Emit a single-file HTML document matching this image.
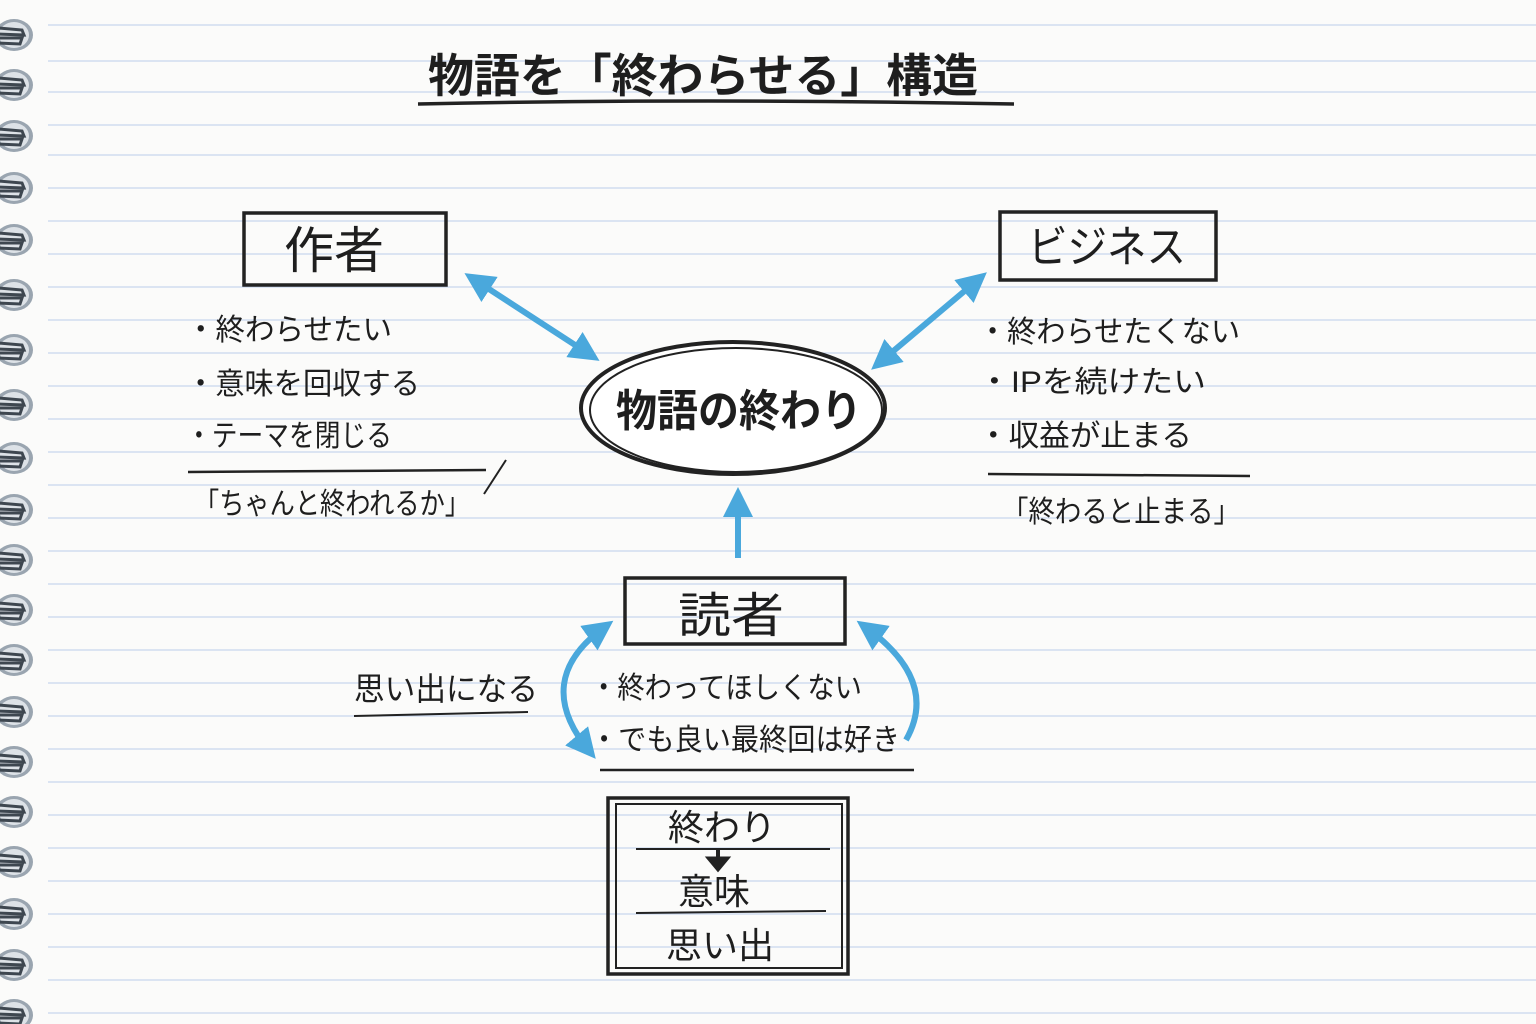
<!DOCTYPE html>
<html><head><meta charset="utf-8"><style>
html,body{margin:0;padding:0;background:#fbfbfa;}
svg{display:block}
text{font-family:"Liberation Sans","Noto Sans CJK JP",sans-serif;fill:#1e1e1e}
</style></head><body>
<svg width="1536" height="1024" viewBox="0 0 1536 1024" xmlns="http://www.w3.org/2000/svg">
<defs>
<marker id="ah" viewBox="0 0 10 10" refX="7" refY="5" markerWidth="5" markerHeight="5" orient="auto-start-reverse"><path d="M0,0 L10,5 L0,10 z" fill="#4aa8dc"/></marker>
<g id="ring"><ellipse cx="14" cy="0" rx="19" ry="16" fill="#9aa5b0"/><ellipse cx="14" cy="0" rx="15" ry="13" fill="#dde2e7"/><path d="M-2,-7 L22,-5 L24,0 L-2,-1 M-2,3 L22,3 L20,9 L-2,8" stroke="#3e4750" stroke-width="3" fill="none"/></g>
</defs>
<rect width="1536" height="1024" fill="#fbfbfa"/>
<g stroke="#c8d6ee" stroke-width="1.3">
<line x1="48" y1="25" x2="1536" y2="25"/><line x1="48" y1="61" x2="1536" y2="61"/><line x1="48" y1="92" x2="1536" y2="92"/><line x1="48" y1="125" x2="1536" y2="125"/><line x1="48" y1="155" x2="1536" y2="155"/><line x1="48" y1="188" x2="1536" y2="188"/><line x1="48" y1="221" x2="1536" y2="221"/><line x1="48" y1="254" x2="1536" y2="254"/><line x1="48" y1="287" x2="1536" y2="287"/><line x1="48" y1="320" x2="1536" y2="320"/><line x1="48" y1="353" x2="1536" y2="353"/><line x1="48" y1="386" x2="1536" y2="386"/><line x1="48" y1="419" x2="1536" y2="419"/><line x1="48" y1="452" x2="1536" y2="452"/><line x1="48" y1="485" x2="1536" y2="485"/><line x1="48" y1="518" x2="1536" y2="518"/><line x1="48" y1="551" x2="1536" y2="551"/><line x1="48" y1="584" x2="1536" y2="584"/><line x1="48" y1="617" x2="1536" y2="617"/><line x1="48" y1="650" x2="1536" y2="650"/><line x1="48" y1="683" x2="1536" y2="683"/><line x1="48" y1="716" x2="1536" y2="716"/><line x1="48" y1="749" x2="1536" y2="749"/><line x1="48" y1="782" x2="1536" y2="782"/><line x1="48" y1="815" x2="1536" y2="815"/><line x1="48" y1="848" x2="1536" y2="848"/><line x1="48" y1="881" x2="1536" y2="881"/><line x1="48" y1="914" x2="1536" y2="914"/><line x1="48" y1="947" x2="1536" y2="947"/><line x1="48" y1="980" x2="1536" y2="980"/><line x1="48" y1="1013" x2="1536" y2="1013"/>
</g>
<g>
<use href="#ring" y="35"/><use href="#ring" y="85"/><use href="#ring" y="136"/><use href="#ring" y="188"/><use href="#ring" y="240"/><use href="#ring" y="295"/><use href="#ring" y="350"/><use href="#ring" y="405"/><use href="#ring" y="458"/><use href="#ring" y="510"/><use href="#ring" y="560"/><use href="#ring" y="610"/><use href="#ring" y="660"/><use href="#ring" y="712"/><use href="#ring" y="762"/><use href="#ring" y="812"/><use href="#ring" y="862"/><use href="#ring" y="914"/><use href="#ring" y="965"/><use href="#ring" y="1015"/>
</g>
<text x="428" y="92" font-size="46" font-weight="bold" textLength="550" lengthAdjust="spacingAndGlyphs">物語を「終わらせる」構造</text>
<path d="M418,104 Q700,98 1014,104" stroke="#222" stroke-width="3.5" fill="none"/>
<rect x="244" y="213" width="202" height="72" fill="none" stroke="#222" stroke-width="3.5"/>
<text x="284" y="268" font-size="50">作者</text>
<text x="186" y="340" font-size="30" textLength="206" lengthAdjust="spacingAndGlyphs">・終わらせたい</text>
<text x="186" y="394" font-size="30" textLength="234" lengthAdjust="spacingAndGlyphs">・意味を回収する</text>
<text x="186" y="446" font-size="30" textLength="206" lengthAdjust="spacingAndGlyphs">・テーマを閉じる</text>
<path d="M188,472 L486,470" stroke="#222" stroke-width="2.5"/>
<path d="M484,494 L506,460" stroke="#222" stroke-width="2"/>
<text x="194" y="514" font-size="30" textLength="276" lengthAdjust="spacingAndGlyphs">「ちゃんと終われるか」</text>
<rect x="1000" y="212" width="216" height="68" fill="none" stroke="#222" stroke-width="3.5"/>
<text x="1028" y="262" font-size="44" textLength="158" lengthAdjust="spacingAndGlyphs">ビジネス</text>
<text x="978" y="342" font-size="30" textLength="262" lengthAdjust="spacingAndGlyphs">・終わらせたくない</text>
<text x="978" y="392" font-size="30" textLength="228" lengthAdjust="spacingAndGlyphs">・IPを続けたい</text>
<text x="978" y="446" font-size="30" textLength="214" lengthAdjust="spacingAndGlyphs">・収益が止まる</text>
<path d="M988,474 L1250,476" stroke="#222" stroke-width="2.5"/>
<text x="1002" y="522" font-size="30" textLength="238" lengthAdjust="spacingAndGlyphs">「終わると止まる」</text>
<ellipse cx="733" cy="408" rx="152" ry="66" fill="#fff" stroke="#222" stroke-width="4"/>
<ellipse cx="736" cy="410" rx="146" ry="62" fill="none" stroke="#222" stroke-width="2"/>
<text x="616" y="426" font-size="44" font-weight="bold" textLength="246" lengthAdjust="spacingAndGlyphs">物語の終わり</text>
<g stroke="#4aa8dc" stroke-width="6" fill="none">
<line x1="472" y1="278" x2="592" y2="356" marker-start="url(#ah)" marker-end="url(#ah)"/>
<line x1="980" y1="278" x2="878" y2="364" marker-start="url(#ah)" marker-end="url(#ah)"/>
<line x1="738" y1="558" x2="738" y2="496" marker-end="url(#ah)"/>
<path d="M606,626 Q530,680 590,752" marker-start="url(#ah)" marker-end="url(#ah)"/>
<path d="M864,626 Q940,680 906,740" marker-start="url(#ah)"/>
</g>
<rect x="625" y="578" width="220" height="66" fill="none" stroke="#222" stroke-width="3.5"/>
<text x="678" y="632" font-size="48" textLength="106" lengthAdjust="spacingAndGlyphs">読者</text>
<text x="354" y="700" font-size="32" textLength="184" lengthAdjust="spacingAndGlyphs">思い出になる</text>
<path d="M354,716 L528,712" stroke="#222" stroke-width="2"/>
<text x="590" y="698" font-size="30" textLength="272" lengthAdjust="spacingAndGlyphs">・終わってほしくない</text>
<text x="590" y="750" font-size="30" textLength="310" lengthAdjust="spacingAndGlyphs">・でも良い最終回は好き</text>
<path d="M600,770 L914,770" stroke="#222" stroke-width="2.5"/>
<rect x="608" y="798" width="240" height="176" fill="none" stroke="#222" stroke-width="3.5"/>
<rect x="616" y="804" width="226" height="164" fill="none" stroke="#222" stroke-width="2"/>
<text x="668" y="840" font-size="36" textLength="108" lengthAdjust="spacingAndGlyphs">終わり</text>
<path d="M636,849 L830,849 M636,913 L826,911" stroke="#222" stroke-width="2"/>
<path d="M718,850 L718,864" stroke="#222" stroke-width="4"/><path d="M708,858 L718,870 L728,858 Z" fill="#222" stroke="#222" stroke-width="3"/>
<text x="678" y="904" font-size="36">意味</text>
<text x="666" y="958" font-size="36">思い出</text>
</svg>
</body></html>
